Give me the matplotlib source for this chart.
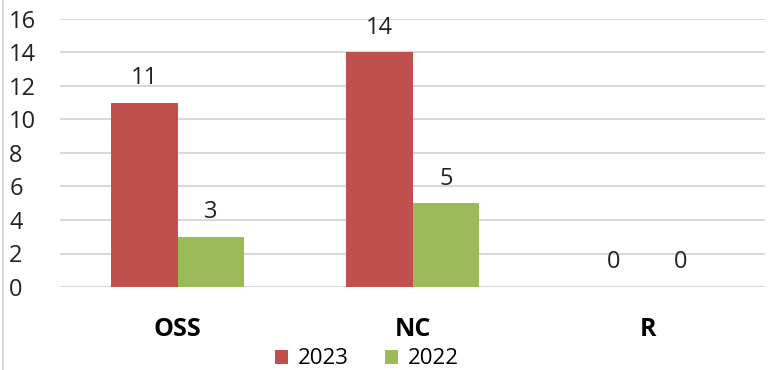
import matplotlib.pyplot as plt
import numpy as np
from matplotlib.lines import Line2D

categories = ["OSS", "NC", "R"]
series_names = ["2023", "2022"]
values_2023 = [11, 14, 0]
values_2022 = [3, 5, 0]
colors = ["#C0504D", "#9BBB59"]
y_ticks = [0, 2, 4, 6, 8, 10, 12, 14, 16]

plt.rcParams["font.family"] = ["Open Sans", "DejaVu Sans"]

W, H = 773, 370
fig = plt.figure(figsize=(W / 100, H / 100), dpi=100)
ax = fig.add_axes([60 / W, 83 / H, 705 / W, 268 / H])

x = np.arange(len(categories))
bw = 0.285
for i, (vals, name) in enumerate(zip([values_2023, values_2022], series_names)):
    offs = (i - 0.5) * bw
    ax.bar(x + offs, vals, width=bw, color=colors[i], label=name, zorder=3)
    for xi, v in zip(x + offs, vals):
        ax.annotate(str(v), (xi, v), xytext=(0, 9), textcoords="offset points",
                    ha="center", va="bottom", fontsize=17, color="#222222")

ax.set_xlim(-0.5, 2.5)
ax.set_ylim(0, 16)
ax.set_yticks(y_ticks)
ax.set_yticklabels([str(t) for t in y_ticks], ha="left")
ax.tick_params(axis="y", length=0, pad=36.5, labelsize=17, labelcolor="#222222")
ax.set_xticks(x)
ax.set_xticklabels(categories, fontsize=18, fontweight="bold")
ax.tick_params(axis="x", length=0, pad=21.5)
ax.grid(axis="y", color="#D9D9D9", linewidth=1.5, zorder=0)
for s in ax.spines.values():
    s.set_visible(False)

fig.add_artist(Line2D([3 / W, 3 / W], [0, 1], color="#D9D9D9", linewidth=1.5))

fig.legend(loc="center", bbox_to_anchor=(367 / W, 11 / H), ncol=2, frameon=False,
           fontsize=16, handlelength=0.6, handleheight=0.6, columnspacing=1.6,
           handletextpad=0.45, borderpad=0)

fig.savefig("out.png", dpi=100)
